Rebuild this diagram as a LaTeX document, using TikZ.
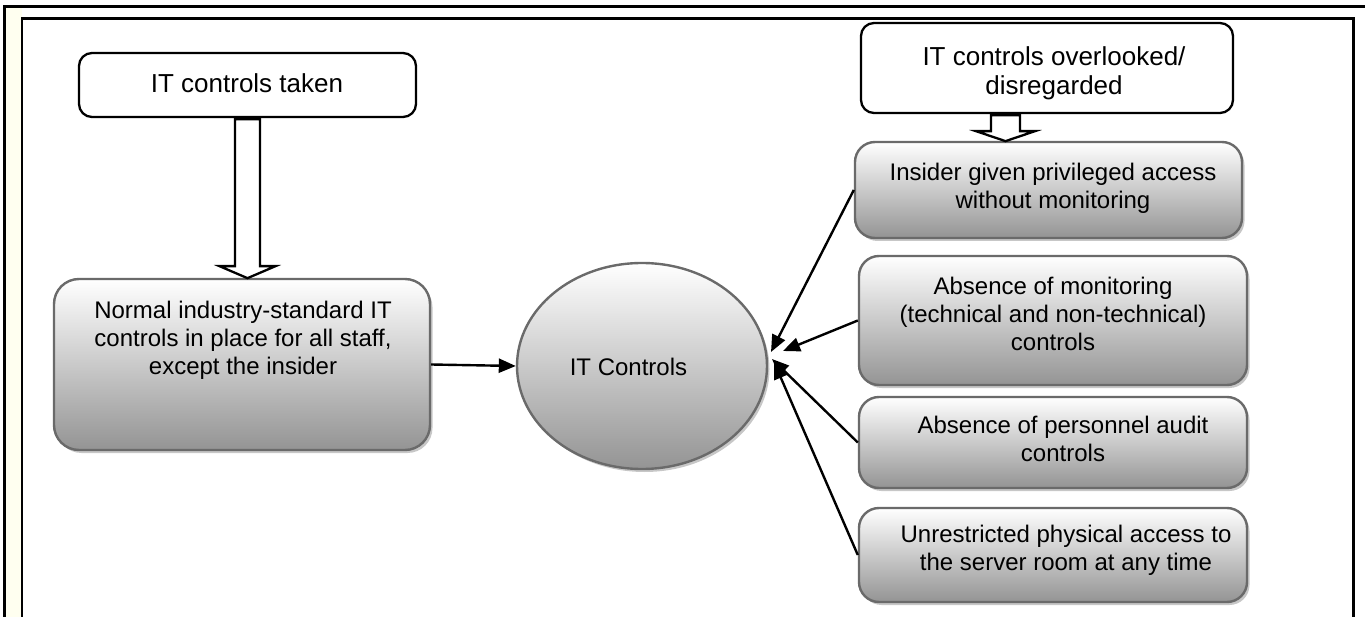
\documentclass[tikz,border=0pt]{standalone}
\usepackage{fontspec}
\setmainfont{Liberation Sans}
\usetikzlibrary{arrows.meta,shadows,calc,shapes.geometric}

\definecolor{ivory}{HTML}{FFFFF0}
\definecolor{boxline}{HTML}{6A6A6A}

\tikzset{
  plainbox/.style={draw=black, line width=2.3pt, rounded corners=13pt,
    fill=white, inner sep=0pt},
  gradbox/.style={draw=boxline, line width=2.4pt, rounded corners=20pt,
    top color=white, bottom color=black!42, inner sep=0pt,
    drop shadow={shadow xshift=2.5pt, shadow yshift=-3pt, fill=black!22, opacity=1}},
  lbl/.style={align=center, inner sep=0pt, font=\fontsize{24}{28}\selectfont},
  biglbl/.style={align=center, inner sep=0pt, font=\fontsize{26}{29}\selectfont},
  link/.style={line width=2.4pt, -{Triangle[length=17pt,width=14pt]}},
  blockarrow/.style={draw=black, line width=2.3pt, fill=white, line join=miter},
}

\begin{document}
\begin{tikzpicture}[x=1pt, y=-1pt]
  \useasboundingbox (0,0) rectangle (1365,617);

  % page frame: outer rule, tinted left band, inner rule
  \fill[ivory] (4.5,6.5) rectangle (22,617);
  \draw[line width=3pt] (4.5,620) -- (4.5,6.5) -- (1366,6.5);
  \draw[line width=2.6pt] (22,620) -- (22,18.5) -- (1353.5,18.5) -- (1353.5,620);

  % left branch
  \node[plainbox, minimum width=337pt, minimum height=64pt] (taken) at (247.5,85) {};
  \node[biglbl] (takentxt) at (247,83) {IT controls taken};

  \node[gradbox, rounded corners=25pt, minimum width=376pt, minimum height=171pt] (normal) at (242,364.5) {};
  \node[lbl] (normaltxt) at (243,340) {Normal industry-standard IT\\controls in place for all staff,\\except the insider};

  % centre
  \node[ellipse, draw=boxline, line width=2.4pt, top color=white, bottom color=black!42,
        drop shadow={shadow xshift=2.5pt, shadow yshift=-3pt, fill=black!22, opacity=1},
        minimum width=250pt, minimum height=206pt, inner sep=0pt] (ctrl) at (642,366) {};
  \node[lbl] (ctrltxt) at (628.5,367) {IT Controls};

  % right branch
  \node[plainbox, minimum width=372pt, minimum height=90pt] (over) at (1047,68) {};
  \node[biglbl] (overtxt) at (1054,73) {IT controls overlooked/\\disregarded};

  \node[gradbox, minimum width=387pt, minimum height=96pt] (ins) at (1048.5,190) {};
  \node[lbl] (instxt) at (1053,188) {Insider given privileged access\\without monitoring};

  \node[gradbox, minimum width=388pt, minimum height=129pt] (mon) at (1053,320.5) {};
  \node[lbl] (montxt) at (1053,314) {Absence of monitoring\\(technical and non-technical)\\controls};

  \node[gradbox, minimum width=388pt, minimum height=91pt] (aud) at (1053,442.5) {};
  \node[lbl] (audtxt) at (1063,439) {Absence of personnel audit\\controls};

  \node[gradbox, minimum width=388pt, minimum height=94pt] (phy) at (1053,555) {};
  \node[lbl] (phytxt) at (1066,550) {Unrestricted physical access to\\the server room at any time};

  % block arrows
  \draw[blockarrow, shift={(taken.south)}]
    (-12.5,1) -- (12.5,1) -- (12.5,148) -- (28,148) -- (0,160) -- (-28,148) -- (-12.5,148) -- cycle;
  \coordinate (overfoot) at ($(over.south)+(-41.5,0)$);
  \draw[blockarrow, shift={(overfoot)}]
    (-14.5,1) -- (14.5,1) -- (14.5,17) -- (29.5,17) -- (0,27) -- (-29.5,17) -- (-14.5,17) -- cycle;

  % connectors into the centre
  \coordinate (hubA) at (771,352);
  \coordinate (hubB) at (783,351);
  \coordinate (hubC) at (772,359);
  \coordinate (hubD) at (774,362);
  \draw[link] (normal.east) -- (ctrl.west);
  \draw[link] (ins.west) -- (hubA);
  \draw[link] (mon.west) -- (hubB);
  \draw[link] (aud.west) -- (hubC);
  \draw[link] (phy.west) -- (hubD);
\end{tikzpicture}
\end{document}
